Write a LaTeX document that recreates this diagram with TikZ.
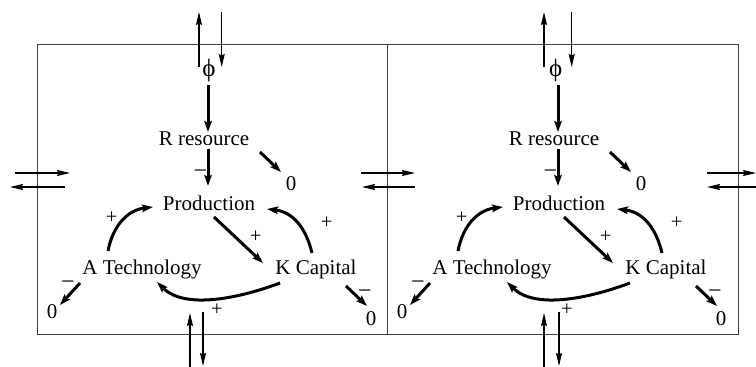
\documentclass[tikz,border=0pt]{standalone}
\usepackage{fontspec}
\setmainfont{Liberation Serif}
\usetikzlibrary{arrows.meta}
\begin{document}
\begin{tikzpicture}[x=1pt,y=-1pt,
  lbl/.style={inner sep=0pt, font=\fontsize{21}{24}\selectfont},
  phil/.style={inner sep=0pt, font=\fontsize{25}{28}\selectfont},
  sign/.style={inner sep=0pt, anchor=base, font=\fontsize{20.5}{24}\selectfont},
  msign/.style={inner sep=0pt, anchor=base, font=\fontsize{24}{28}\selectfont},
  flow/.style={line width=1.3pt, -{Stealth[length=13pt,width=6pt,inset=1.5pt]}},
  infl/.style={line width=3pt, -{Stealth[length=11pt,width=7.5pt,inset=2pt]}},
  boxline/.style={draw=black!75, line width=1.2pt}]
\useasboundingbox (0,0) rectangle (756,367);
% boxes
\draw[boxline] (37.7,44.3) rectangle (387.3,334.3);
\draw[boxline] (387.3,44.3) rectangle (738.3,334.3);
\foreach \dx/\s/\pu/\pd/\ph/\bu/\bd in {0/L/199/221.7/209/190/203, 350/R/194/221.7/205.7/194/209} {
\begin{scope}[xshift=\dx]
  \node[phil] (phi\s) at (\ph,70) {ϕ};
  \node[lbl, anchor=base] (R\s) at (204,145) {R resource};
  \node[lbl, anchor=base] (P\s) at (209,210) {Production};
  \node[lbl, anchor=base] (A\s) at (142,274) {A Technology};
  \node[lbl, anchor=base] (K\s) at (316,274) {K Capital};
  \node[lbl] (zR\s) at (291,184) {0};
  \node[lbl] (zA\s) at (52,312) {0};
  \node[lbl] (zK\s) at (371,319) {0};
  % signs
  \node[msign] (mRP\s) at (200.5,178) {−};
  \node[msign] (mA\s) at (68,289) {−};
  \node[msign] (mK\s) at (365,298) {−};
  \node[sign] (pAP\s) at (111.7,223.5) {+};
  \node[sign] (pKP\s) at (326.7,228.5) {+};
  \node[sign] (pPK\s) at (255.7,242) {+};
  \node[sign] (pKA\s) at (217,315) {+};
  % influence arrows
  \draw[infl] ([shift={(208-\ph,15)}]phi\s.center) -- ([shift={(4,-13)}]R\s.base);
  \draw[infl] ([shift={(4,4)}]R\s.base) -- ([shift={(-1,-24)}]P\s.base);
  \draw[infl] ([shift={(56,7)}]R\s.base) -- ([shift={(-10,-12)}]zR\s.center);
  \draw[infl] ([shift={(-34,-23)}]A\s.base) .. controls +(5,-26) and +(-25,3) .. ([shift={(-56,-3)}]P\s.base);
  \draw[infl] ([shift={(-4,-21)}]K\s.base) .. controls +(-6,-25) and +(26,3) .. ([shift={(58,-1)}]P\s.base);
  \draw[infl] ([shift={(5,7)}]P\s.base) -- ([shift={(-53,-11)}]K\s.base);
  \draw[infl] ([shift={(-36,9)}]K\s.base) .. controls +(-40,15) and +(28,28) .. ([shift={(15,8)}]A\s.base);
  \draw[infl] ([shift={(-62,9)}]A\s.base) -- ([shift={(8,-7)}]zA\s.center);
  \draw[infl] ([shift={(30,12)}]K\s.base) -- ([shift={(-4,-13)}]zK\s.center);
  % flows through top and bottom
  \coordinate (tua\s) at (\pu,67);  \coordinate (tub\s) at (\pu,12);
  \coordinate (tda\s) at (\pd,12);  \coordinate (tdb\s) at (\pd,67);
  \coordinate (bua\s) at (\bu,367); \coordinate (bub\s) at (\bu,313);
  \coordinate (bda\s) at (\bd,312); \coordinate (bdb\s) at (\bd,366);
  \draw[flow] (tua\s) -- (tub\s);
  \draw[flow] (tda\s) -- (tdb\s);
  \draw[flow] (bua\s) -- (bub\s);
  \draw[flow] (bda\s) -- (bdb\s);
\end{scope}
}
% side flows
\coordinate (s1a) at (15,173);  \coordinate (s1b) at (70,173);
\coordinate (s2a) at (65,187);  \coordinate (s2b) at (10,187);
\coordinate (s3a) at (361,173); \coordinate (s3b) at (415,173);
\coordinate (s4a) at (415,187); \coordinate (s4b) at (362,187);
\coordinate (s5a) at (707,173); \coordinate (s5b) at (756,173);
\coordinate (s6a) at (756,187); \coordinate (s6b) at (707,187);
\draw[flow] (s1a) -- (s1b);
\draw[flow] (s2a) -- (s2b);
\draw[flow] (s3a) -- (s3b);
\draw[flow] (s4a) -- (s4b);
\draw[flow] (s5a) -- (s5b);
\draw[flow] (s6a) -- (s6b);
\end{tikzpicture}
\end{document}
